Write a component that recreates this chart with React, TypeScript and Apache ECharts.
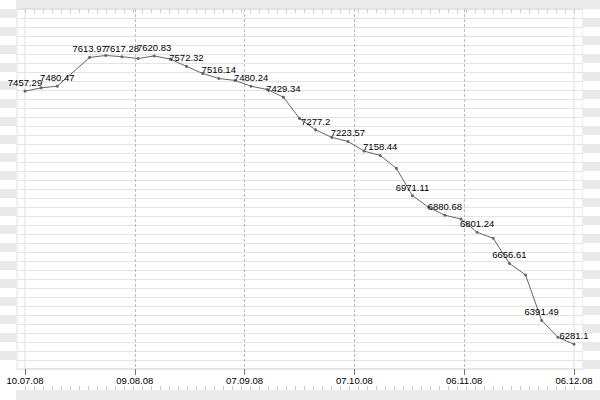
import React, { useEffect, useRef } from "react";
import * as echarts from "echarts";

const tickLabels = ["10.07.08", "09.08.08", "07.09.08", "07.10.08", "06.11.08", "06.12.08"];
const slots = [0, 1, 2, 4, 5, 6, 7, 8, 9, 10, 11, 12, 13, 14, 15, 16, 17, 18, 19, 20, 21, 22, 23, 24, 25, 26, 27, 28, 29, 30, 31, 32, 33, 34];
const values = [
  7457.29, 7472.6, 7480.47, 7613.97, 7623, 7617.28, 7609, 7620.83, 7606, 7572.32,
  7539.5, 7516.14, 7507, 7480.24, 7465, 7429.34, 7330.5, 7277.2, 7242.3, 7223.57,
  7178.7, 7158.44, 7098.4, 6971.11, 6917.3, 6880.68, 6863, 6801.24, 6773.3, 6656.61,
  6602.9, 6391.49, 6313.6, 6281.1,
];
const labeled = [
  true, false, true, true, false, true, false, true, false, true,
  false, true, false, true, false, true, false, true, false, true,
  false, true, false, true, false, true, false, true, false, true,
  false, true, false, true,
];

const FONT = 'Tahoma, "Liberation Sans", Arial, sans-serif';

export default function App() {
  const ref = useRef<HTMLDivElement>(null);
  useEffect(() => {
    if (!ref.current) return;
    const chart = echarts.init(ref.current, undefined, { renderer: "svg" });
    const data = slots.map((s, i) => ({
      value: [s, values[i]],
      label: { show: labeled[i] },
    }));
    const hidden = { show: false };
    chart.setOption({
      animation: false,
      backgroundColor: "#ffffff",
      textStyle: { fontFamily: FONT },
      graphic: [
        { type: "rect", shape: { x: 16, y: 0, width: 584, height: 9 }, style: { fill: "#ebebeb" }, z: -1 },
        { type: "rect", shape: { x: 16, y: 390, width: 584, height: 10 }, style: { fill: "#ebebeb" }, z: -1 },
      ],
      grid: [
        { left: 17, right: 17, top: 9, bottom: 31, show: true, borderColor: "#dddddd", borderWidth: 1, backgroundColor: "transparent" },
        { left: 0, width: 16, top: 9, bottom: 31 },
        { right: 0, width: 17, top: 9, bottom: 31 },
        { left: 25, right: 26, top: 9, bottom: 31, show: true, borderColor: "#dddddd", borderWidth: 1, backgroundColor: "transparent" },
      ],
      xAxis: [
        { gridIndex: 0, type: "value", min: 0, max: 1, show: false },
        { gridIndex: 1, type: "value", min: 0, max: 1, show: false },
        { gridIndex: 2, type: "value", min: 0, max: 1, show: false },
        {
          gridIndex: 3,
          type: "value",
          min: 0,
          max: 34,
          interval: 6.8,
          axisLine: hidden,
          axisTick: { show: true, length: 6, lineStyle: { color: "#777777" } },
          axisLabel: {
            color: "#000",
            fontSize: 9.5,
            fontFamily: FONT,
            margin: 6,
            formatter: (v: number) => tickLabels[Math.round(v / 6.8)] ?? "",
          },
          splitLine: {
            show: true,
            showMinLine: false,
            showMaxLine: false,
            lineStyle: { color: "#bbbbbb", type: [3, 2], width: 1 },
          },
        },
        {
          gridIndex: 3,
          type: "value",
          position: "top",
          min: 0,
          max: 61,
          interval: 1,
          axisLine: hidden,
          axisTick: { show: true, inside: true, length: 4, lineStyle: { color: "#cccccc" } },
          axisLabel: hidden,
          splitLine: hidden,
        },
        {
          gridIndex: 3,
          type: "value",
          position: "bottom",
          offset: 21,
          min: 0,
          max: 61,
          interval: 1,
          axisLine: hidden,
          axisTick: { show: true, inside: true, length: 4, lineStyle: { color: "#cccccc" } },
          axisLabel: hidden,
          splitLine: hidden,
        },
      ],
      yAxis: [
        {
          gridIndex: 0,
          type: "value",
          min: 0,
          max: 40,
          interval: 1,
          axisLine: hidden,
          axisTick: hidden,
          axisLabel: hidden,
          splitLine: { show: true, lineStyle: { color: "#e4e4e4", width: 1 } },
        },
        {
          gridIndex: 1,
          type: "value",
          min: 0,
          max: 40,
          interval: 1,
          axisLine: hidden,
          axisTick: hidden,
          axisLabel: hidden,
          splitLine: hidden,
          splitArea: { show: true, areaStyle: { color: ["#ffffff", "#e9e9e9"] } },
        },
        {
          gridIndex: 2,
          type: "value",
          min: 0,
          max: 40,
          interval: 1,
          axisLine: hidden,
          axisTick: hidden,
          axisLabel: hidden,
          splitLine: hidden,
          splitArea: { show: true, areaStyle: { color: ["#e9e9e9", "#ffffff"] } },
        },
        {
          gridIndex: 3,
          type: "value",
          min: 6166,
          max: 7839,
          show: false,
        },
      ],
      series: [
        {
          type: "line",
          xAxisIndex: 3,
          yAxisIndex: 3,
          data,
          symbol: "circle",
          symbolSize: 3,
          showAllSymbol: true,
          lineStyle: { color: "#666666", width: 1 },
          itemStyle: { color: "#666666" },
          label: {
            position: "top",
            distance: 2,
            color: "#000",
            fontSize: 9.5,
            fontFamily: FONT,
            formatter: (p: any) => String(p.value[1]),
          },
          labelLayout: { hideOverlap: false },
        },
      ],
    });
    return () => chart.dispose();
  }, []);
  return <div ref={ref} style={{ position: "fixed", left: 0, top: 0, width: 600, height: 400 }} />;
}
